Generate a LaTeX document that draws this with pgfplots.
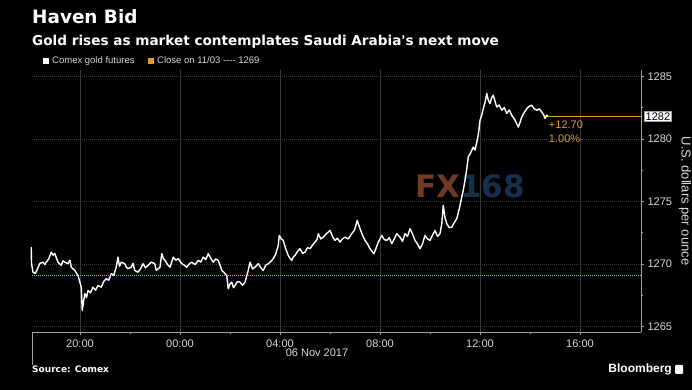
\documentclass[border=0pt]{standalone}
\usepackage{pgfplots}
\pgfplotsset{compat=1.18}
\usepackage{fontspec}
\setmainfont{Liberation Sans}
\newfontfamily\titlefont{DejaVu Sans}
\definecolor{gridc}{HTML}{3A3A3A}
\definecolor{axc}{HTML}{A0A0A0}
\definecolor{txtc}{HTML}{D8D8D8}
\definecolor{orng}{HTML}{E39A2C}
\definecolor{fxo}{HTML}{6E3C22}
\definecolor{fxb}{HTML}{15304C}
\begin{document}
\begin{tikzpicture}[x=1pt,y=1pt]
\fill[black] (0,0) rectangle (692,390);
\path[use as bounding box] (0,0) rectangle (692,390);
\node[anchor=base west, inner sep=0, text=white, font=\titlefont\bfseries\fontsize{18.4}{20}\selectfont] at (32,366) {Haven Bid};
\node[anchor=base west, inner sep=0, text=white, font=\titlefont\bfseries\fontsize{13.6}{15}\selectfont] at (32,344) {Gold rises as market contemplates Saudi Arabia's next move};
\fill[white] (43,326) rectangle (49,332);
\node[anchor=base west, inner sep=0, text=txtc, font=\fontsize{9.5}{11}\selectfont] at (52,326) {Comex gold futures};
\fill[orng] (148,326) rectangle (154,332);
\node[anchor=base west, inner sep=0, text=txtc, font=\fontsize{9.5}{11}\selectfont] at (157,326) {Close on 11/03 {-}{-}{-}{-} 1269};
\node[anchor=center, inner sep=0, font=\titlefont\bfseries\fontsize{31}{32}\selectfont] at (470,204) {\textcolor{fxo}{FX}\textcolor{fxb}{168}};
\begin{axis}[
  at={(32pt,58pt)}, anchor=south west,
  width=609pt, height=262pt, scale only axis,
  xmin=-5.92, xmax=18.44, ymin=1264.56, ymax=1285.5,
  axis x line*=bottom, axis y line*=right,
  axis line style={axc, line width=0.8pt},
  xtick={-4,0,4,8,12,16},
  xticklabels={20:00,00:00,04:00,08:00,12:00,16:00},
  minor xtick={-2,2,6,10,14},
  ytick={1265,1270,1275,1280,1285},
  minor ytick={1267.5,1272.5,1277.5,1282.5},
  tick align=outside,
  major tick length=3pt, minor tick length=2pt,
  tick style={axc, line width=0.6pt},
  xmajorgrids, ymajorgrids,
  x grid style={gridc, line width=0.5pt},
  y grid style={gridc, line width=0.6pt, dash pattern=on 1pt off 1pt},
  ticklabel style={text=txtc, font=\fontsize{11}{13}\selectfont},
  /pgf/number format/assume math mode=true,
  yticklabel style={/pgf/number format/1000 sep={}, xshift=0pt},
  xticklabel style={yshift=-1pt},
  ylabel={U.S. dollars per ounce},
  ylabel style={rotate=180, text=txtc, font=\fontsize{13}{15}\selectfont},
  clip=false,
]
\addplot[orng, line width=0.6pt, dash pattern=on 1pt off 1pt] coordinates {(-5.92,1269.1) (18.44,1269.1)};
\addplot[orng, line width=0.7pt] coordinates {(14.72,1281.8) (18.44,1281.8)};
\addplot[white, line width=1.4pt, line join=round] coordinates {
(-5.95,1271.34) (-5.94,1270.04) (-5.88,1269.34) (-5.79,1269.24) (-5.70,1269.60) (-5.61,1270.04)
(-5.48,1270.14) (-5.40,1269.95) (-5.35,1270.14) (-5.25,1270.40) (-5.15,1270.94) (-5.08,1270.70)
(-5.01,1270.84) (-4.88,1270.14) (-4.75,1269.88) (-4.68,1270.25) (-4.61,1270.14) (-4.48,1270.02)
(-4.40,1270.30) (-4.35,1269.74) (-4.21,1269.48) (-4.08,1269.08) (-3.95,1268.14) (-3.91,1266.28)
(-3.81,1267.64) (-3.74,1267.30) (-3.68,1267.88) (-3.58,1267.70) (-3.48,1268.14) (-3.38,1267.90)
(-3.28,1268.28) (-3.15,1268.14) (-3.05,1268.60) (-2.95,1268.82) (-2.85,1268.70) (-2.75,1269.22)
(-2.65,1269.10) (-2.55,1269.74) (-2.48,1270.54) (-2.42,1269.80) (-2.35,1270.14) (-2.21,1270.02)
(-2.15,1269.75) (-2.08,1269.62) (-1.95,1269.74) (-1.88,1270.05) (-1.81,1269.48) (-1.68,1269.34)
(-1.58,1269.60) (-1.48,1270.02) (-1.38,1269.70) (-1.28,1269.88) (-1.15,1270.15) (-1.01,1270.02)
(-0.95,1269.48) (-0.88,1269.60) (-0.80,1269.74) (-0.73,1270.82) (-0.66,1270.40) (-0.60,1270.28)
(-0.50,1269.95) (-0.40,1269.74) (-0.27,1270.54) (-0.17,1270.30) (-0.07,1270.42) (0.07,1270.02)
(0.17,1269.90) (0.27,1269.74) (0.37,1270.00) (0.47,1270.14) (0.60,1269.95) (0.73,1270.28)
(0.83,1270.15) (0.93,1270.54) (1.03,1270.35) (1.13,1270.82) (1.23,1270.45) (1.33,1270.14)
(1.43,1270.40) (1.53,1270.28) (1.60,1269.90) (1.67,1269.48) (1.77,1269.30) (1.87,1269.08)
(1.93,1268.02) (2.00,1268.40) (2.07,1268.54) (2.14,1268.10) (2.20,1268.28) (2.30,1268.60)
(2.40,1268.54) (2.50,1268.30) (2.60,1268.54) (2.73,1269.48) (2.80,1270.14) (2.90,1269.60)
(3.00,1269.74) (3.13,1270.02) (3.23,1269.70) (3.33,1269.48) (3.43,1269.90) (3.53,1270.02)
(3.63,1270.20) (3.73,1270.42) (3.83,1270.80) (3.93,1271.48) (3.97,1272.28) (4.05,1272.00)
(4.13,1271.88) (4.23,1271.20) (4.33,1270.68) (4.40,1270.45) (4.47,1270.28) (4.53,1270.55)
(4.60,1270.68) (4.70,1271.00) (4.80,1271.22) (4.90,1270.85) (5.00,1270.94) (5.10,1271.30)
(5.20,1271.22) (5.30,1271.50) (5.40,1271.74) (5.48,1271.95) (5.53,1272.42) (5.63,1272.00)
(5.73,1272.14) (5.85,1272.40) (6.00,1272.68) (6.10,1272.20) (6.20,1271.88) (6.30,1272.05)
(6.40,1271.74) (6.50,1272.00) (6.60,1272.14) (6.73,1272.00) (6.87,1272.42) (6.98,1272.70)
(7.09,1273.48) (7.20,1272.82) (7.30,1272.30) (7.40,1271.88) (7.50,1271.60) (7.60,1271.22)
(7.68,1271.00) (7.76,1270.82) (7.85,1271.30) (7.93,1271.74) (8.00,1272.00) (8.07,1272.28)
(8.17,1271.95) (8.27,1271.88) (8.37,1272.10) (8.47,1271.62) (8.57,1272.00) (8.67,1272.42)
(8.80,1272.14) (8.90,1271.80) (9.00,1272.42) (9.10,1272.20) (9.20,1272.82) (9.30,1272.40)
(9.40,1271.88) (9.50,1271.60) (9.60,1271.22) (9.70,1271.60) (9.80,1272.28) (9.90,1272.00)
(10.00,1271.88) (10.10,1272.30) (10.20,1272.68) (10.30,1272.20) (10.40,1272.42) (10.47,1273.20)
(10.53,1274.68) (10.60,1273.70) (10.67,1273.22) (10.77,1272.90) (10.87,1272.94) (10.97,1273.30)
(11.07,1273.62) (11.17,1274.40) (11.27,1275.34) (11.33,1275.90) (11.40,1276.68) (11.47,1277.60)
(11.53,1278.54) (11.63,1278.90) (11.73,1279.34) (11.80,1279.10) (11.89,1279.88) (11.95,1280.60)
(12.00,1281.48) (12.07,1281.90) (12.13,1282.42) (12.20,1282.90) (12.27,1283.62) (12.33,1283.10)
(12.40,1282.82) (12.47,1283.30) (12.53,1283.48) (12.60,1283.00) (12.67,1282.54) (12.77,1282.70)
(12.87,1282.28) (12.97,1282.50) (13.07,1282.02) (13.17,1282.30) (13.27,1281.88) (13.40,1281.50)
(13.53,1280.94) (13.60,1281.30) (13.67,1281.74) (13.77,1282.10) (13.87,1282.42) (13.97,1282.60)
(14.07,1282.68) (14.17,1282.40) (14.27,1282.28) (14.37,1282.40) (14.47,1282.14) (14.55,1281.90)
(14.60,1281.62) (14.67,1281.88) (14.72,1281.80)
};
\node[anchor=base west, inner sep=0, text=orng, font=\fontsize{11}{13}\selectfont] at (axis cs:14.75,1280.8) {+12.70};
\node[anchor=base west, inner sep=0, text=orng, font=\fontsize{11}{13}\selectfont] at (axis cs:14.75,1279.7) {1.00\%};
\node[anchor=west, fill=white, draw=axc, text=black, inner xsep=1.5pt, inner ysep=1pt, font=\fontsize{11}{13}\selectfont] at ([xshift=3pt]axis cs:18.44,1281.8) {1282};
\end{axis}
\draw[axc, line width=0.8pt] (32,58) -- (32,25);
\node[anchor=base, inner sep=0, text=txtc, font=\fontsize{11}{13}\selectfont] at (317,33) {06 Nov 2017};
\node[anchor=base west, inner sep=0, text=white, font=\titlefont\bfseries\fontsize{9}{11}\selectfont] at (32,17) {Source: Comex};
\node[anchor=base east, inner sep=0, text=white, font=\bfseries\fontsize{12}{14}\selectfont] at (672,17) {Bloomberg};
\fill[white, rounded corners=1pt] (675,16) rectangle (683,25);
\end{tikzpicture}
\end{document}
